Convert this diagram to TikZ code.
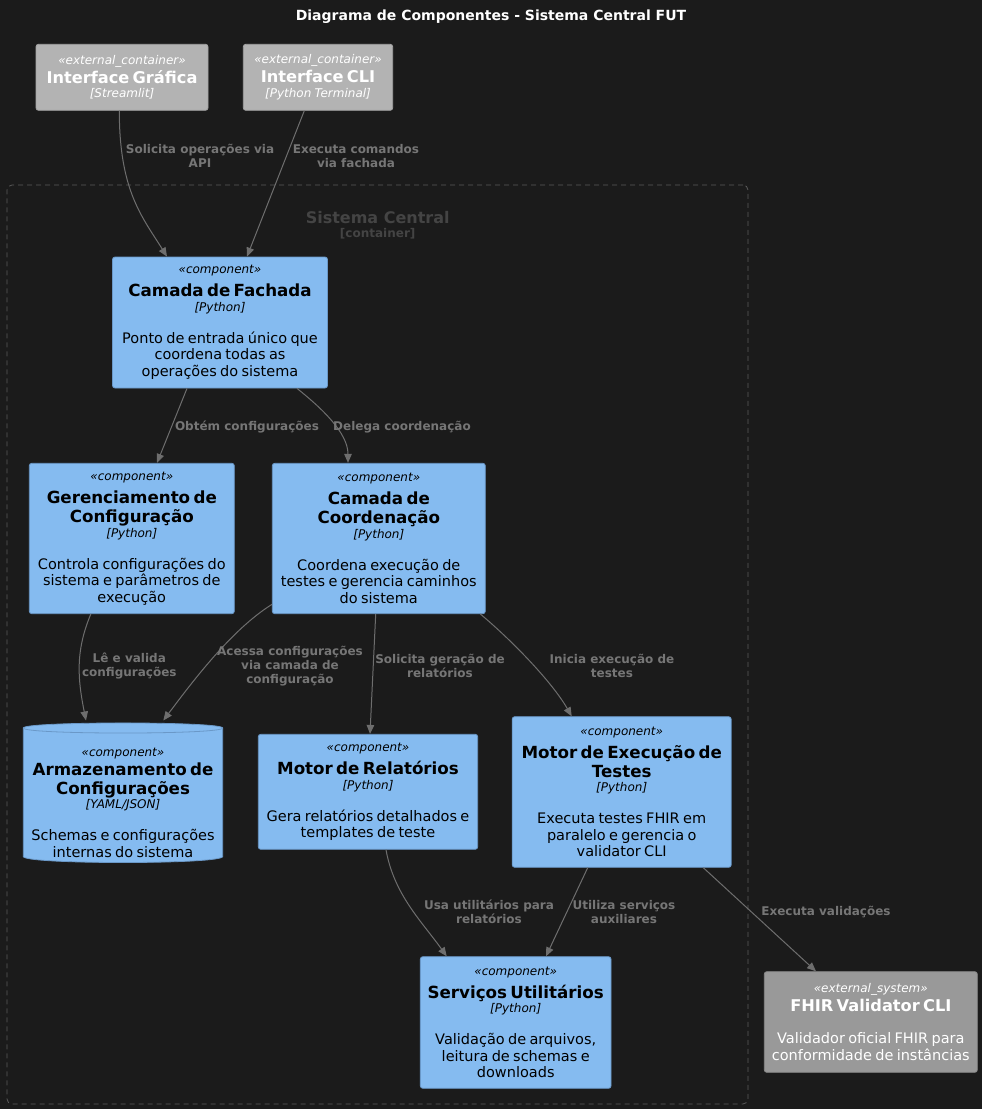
\documentclass[tikz,border=0pt]{standalone}
\usepackage{fontspec}
\setmainfont{DejaVu Sans}[ItalicFont={DejaVu Sans Oblique},BoldFont={DejaVu Sans Bold},BoldItalicFont={DejaVu Sans Bold Oblique}]
\usetikzlibrary{arrows.meta}
\definecolor{bgc}{HTML}{1B1B1B}
\definecolor{compf}{HTML}{85BBF0}
\definecolor{compb}{HTML}{6A98C8}
\definecolor{extcf}{HTML}{B3B3B3}
\definecolor{extcb}{HTML}{A3A3A3}
\definecolor{extsf}{HTML}{999999}
\definecolor{extsb}{HTML}{8A8A8A}
\definecolor{edgec}{HTML}{6E6E6E}
\definecolor{labc}{HTML}{767676}
\definecolor{contc}{HTML}{5A5A5A}
\definecolor{contl}{HTML}{444444}
\newcommand{\topPad}{\vspace*{4pt}}
\newcommand{\stLine}[1]{\normalfont\itshape\fontsize{12}{14}\selectfont «#1»\par}
\newcommand{\nmLine}[1]{\normalfont\bfseries\fontsize{16.7}{19}\selectfont #1\par}
\newcommand{\exLine}[1]{\normalfont\bfseries\fontsize{16.2}{19}\selectfont #1\par}
\newcommand{\tcLine}[1]{\normalfont\itshape\fontsize{12}{14.5}\selectfont [#1]\par}
\newcommand{\dsLine}[1]{\vspace{15.5pt}\normalfont\fontsize{14.5}{16.5}\selectfont #1\par}
\tikzset{
  boxbase/.style={rounded corners=2.5pt, line width=0.8pt, inner sep=0pt, align=center},
  comp/.style={boxbase, draw=compb, fill=compf, text=black},
  extc/.style={boxbase, draw=extcb, fill=extcf, text=white},
  exts/.style={boxbase, draw=extsb, fill=extsf, text=white},
  plain/.style={inner sep=0pt, align=center, text=black},
  elabel/.style={text=labc, font=\bfseries\fontsize{12}{14}\selectfont, align=center, inner sep=0pt},
  link/.style={draw=edgec, line width=1pt, -{Triangle[length=9pt,width=7.5pt]}},
  contbox/.style={draw=contc, dash pattern=on 5pt off 4pt, rounded corners=5pt, line width=0.8pt, inner sep=0pt},
}
\begin{document}
\begin{tikzpicture}[x=1pt,y=-1pt]
\useasboundingbox (0,0) rectangle (982,1109);
\fill[bgc] (0,0) rectangle (982,1109);

% title
\node[text=white, font=\bfseries\fontsize{14}{16}\selectfont, inner sep=0pt] (title) at (491,17) {Diagrama de Componentes - Sistema Central FUT};

% container
\node[contbox, minimum width=741pt, minimum height=919pt] (sys) at (377.5,644.5) {};
\node[text=contl, font=\bfseries\fontsize{16}{18}\selectfont, inner sep=0pt] (sysname) at (377.7,217.3) {Sistema Central};
\node[text=contl, font=\bfseries\fontsize{12}{14}\selectfont, inner sep=0pt] (systype) at (377.7,233.7) {[container]};

% external containers
\node[extc, minimum width=172pt, minimum height=66pt, text width=168pt] (gui) at (122,77.3)
  {\stLine{external\_container}\exLine{Interface Gráfica}\tcLine{Streamlit}};
\node[extc, minimum width=149.4pt, minimum height=66pt, text width=146pt] (cli) at (318,77.3)
  {\stLine{external\_container}\exLine{Interface CLI}\tcLine{Python Terminal}};

% components
\node[comp, minimum width=215pt, minimum height=131pt, text width=210pt] (fach) at (220,322.5)
  {\topPad\stLine{component}\nmLine{Camada de Fachada}\tcLine{Python}\dsLine{Ponto de entrada único que\\coordena todas as\\operações do sistema}};
\node[comp, minimum width=205pt, minimum height=150.4pt, text width=200pt] (gcfg) at (131.8,538.5)
  {\topPad\stLine{component}\nmLine{Gerenciamento de\\Configuração}\tcLine{Python}\dsLine{Controla configurações do\\sistema e parâmetros de\\execução}};
\node[comp, minimum width=213pt, minimum height=150.4pt, text width=208pt] (coord) at (378.8,538.5)
  {\topPad\stLine{component}\nmLine{Camada de\\Coordenação}\tcLine{Python}\dsLine{Coordena execução de\\testes e gerencia caminhos\\do sistema}};
\node[comp, minimum width=219.4pt, minimum height=115pt, text width=215pt] (rel) at (368,791.8)
  {\topPad\stLine{component}\nmLine{Motor de Relatórios}\tcLine{Python}\dsLine{Gera relatórios detalhados e\\templates de teste}};
\node[comp, minimum width=219pt, minimum height=150.6pt, text width=214pt] (exec) at (621.7,792)
  {\topPad\stLine{component}\nmLine{Motor de Execução de\\Testes}\tcLine{Python}\dsLine{Executa testes FHIR em\\paralelo e gerencia o\\validator CLI}};
\node[comp, minimum width=190.7pt, minimum height=131.6pt, text width=186pt] (serv) at (515.7,1022.5)
  {\topPad\stLine{component}\nmLine{Serviços Utilitários}\tcLine{Python}\dsLine{Validação de arquivos,\\leitura de schemas e\\downloads}};

% database (cylinder)
\node[inner sep=0pt, minimum width=199.4pt, minimum height=142.6pt] (store) at (123,792) {};
\path[fill=compf, draw=compb, line width=0.8pt]
  (23.3,728) .. controls (23.3,721.3) and (222.7,721.3) .. (222.7,728)
  -- (222.7,856.5) .. controls (222.7,864.5) and (23.3,864.5) .. (23.3,856.5) -- cycle;
\draw[compb, line width=0.8pt] (23.3,728) .. controls (23.3,734.7) and (222.7,734.7) .. (222.7,728);
\node[plain, text width=197pt] (storetext) at (123,802.5)
  {\stLine{component}\nmLine{Armazenamento de\\Configurações}\tcLine{YAML/JSON}\dsLine{Schemas e configurações\\internas do sistema}};

% external system
\node[exts, minimum width=213pt, minimum height=100.6pt, text width=208pt] (fhir) at (870.8,1022)
  {\stLine{external\_system}\exLine{FHIR Validator CLI}\dsLine{Validador oficial FHIR para\\conformidade de instâncias}};

% connectors
\draw[link] ([xshift=-2.7pt]gui.south) .. controls +(0,80) and +(-25,-40) .. ([xshift=-53pt]fach.north);
\draw[link] ([xshift=-13.7pt]cli.south) -- ([xshift=27pt]fach.north);
\draw[link] ([xshift=-33pt]fach.south) -- ([xshift=25.2pt]gcfg.north);
\draw[link] ([xshift=77pt]fach.south) .. controls +(25,20) and +(0,-30) .. ([xshift=-30.8pt]coord.north);
\draw[link] ([xshift=-41pt]gcfg.south) .. controls +(-16,38) and +(-8,-40) .. ([xshift=-37pt]store.north);
\draw[link] ([yshift=9.7pt]coord.south west) .. controls +(-40,25) and +(30,-40) .. ([xshift=40.3pt]store.north);
\draw[link] ([xshift=-3.1pt]coord.south) -- ([xshift=2pt]rel.north);
\draw[link] ([xshift=-5.3pt]coord.south east) .. controls +(30,25) and +(-20,-35) .. ([xshift=-50pt]exec.north);
\draw[link] ([xshift=18pt]rel.south) .. controls +(8,45) and +(-25,-35) .. ([xshift=-69pt]serv.north);
\draw[link] ([xshift=-34pt]exec.south) -- ([xshift=30.3pt]serv.north);
\draw[link] ([xshift=81.6pt]exec.south) -- ([xshift=-54.8pt]fhir.north);

% connector labels
\node[elabel] (l1) at (200,156) {Solicita operações via\\API};
\node[elabel] (l2) at (356,156) {Executa comandos\\via fachada};
\node[elabel] (l3) at (247,427) {Obtém configurações};
\node[elabel] (l4) at (402,427) {Delega coordenação};
\node[elabel] (l5) at (129.3,666) {Lê e valida\\configurações};
\node[elabel] (l6) at (290,666) {Acessa configurações\\via camada de\\configuração};
\node[elabel] (l7) at (440,666) {Solicita geração de\\relatórios};
\node[elabel] (l8) at (612,666) {Inicia execução de\\testes};
\node[elabel] (l9) at (489,912) {Usa utilitários para\\relatórios};
\node[elabel] (l10) at (624,912) {Utiliza serviços\\auxiliares};
\node[elabel] (l11) at (826,912) {Executa validações};
\end{tikzpicture}
\end{document}
